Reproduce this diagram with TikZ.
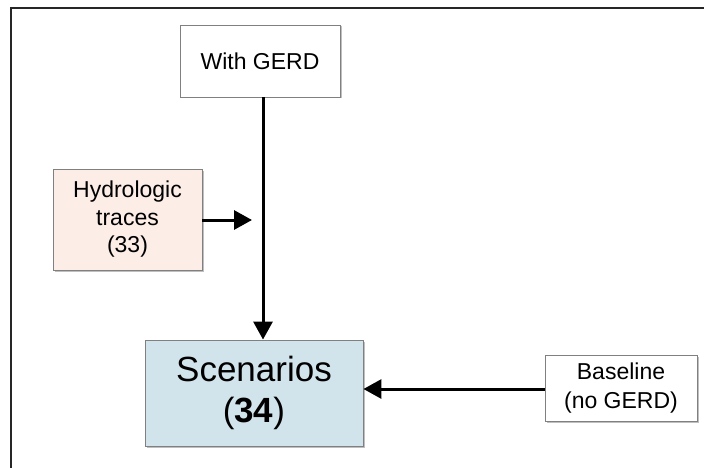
\documentclass[tikz,border=0pt]{standalone}
\usepackage{fontspec}
\setmainfont{Liberation Sans}
\usetikzlibrary{arrows.meta,shadows}
\definecolor{hydrofill}{RGB}{252,237,231}
\definecolor{scenfill}{RGB}{209,227,235}
\definecolor{boxline}{RGB}{128,128,128}
\tikzset{
  box/.style={draw=boxline, line width=0.9pt, align=center, inner sep=0pt,
    drop shadow={shadow xshift=1.5pt, shadow yshift=-1.5pt, fill=black, opacity=0.25}},
  conn/.style={line width=3pt, -{Triangle[length=18pt,width=19pt]}},
}
\begin{document}
\begin{tikzpicture}[x=1pt,y=-1pt]
\useasboundingbox (0,0) rectangle (704,468);
\fill[white] (0,0) rectangle (704,468);
\draw[line width=2pt, black!85] (11,468) coordinate (bl) -- (11,8) coordinate (tl) -- (704,8) coordinate (tr);
\node[box, fill=white, minimum width=160pt, minimum height=72pt,
  font=\fontsize{23}{27}\selectfont] (gerd) at (260,61) {With GERD};
\node[box, fill=hydrofill, minimum width=149pt, minimum height=101pt,
  font=\fontsize{23}{27.5}\selectfont] (hydro) at (127.5,219.5) {Hydrologic\\traces\\(33)};
\node[box, fill=scenfill, minimum width=218pt, minimum height=106pt,
  font=\fontsize{35}{41}\selectfont] (scen) at (254,393) {Scenarios\\(\textbf{34})};
\node[box, fill=white, minimum width=152pt, minimum height=66pt,
  font=\fontsize{23}{29.5}\selectfont] (base) at (621,388) {Baseline\\(no GERD)};
\coordinate (join) at (252,220);
\draw[conn] (gerd.south -| 263,0) -- (scen.north -| 263,0);
\draw[conn] (hydro.east |- join) -- (join);
\draw[conn] (base.west |- 0,389) -- (scen.east |- 0,389);
\end{tikzpicture}
\end{document}
